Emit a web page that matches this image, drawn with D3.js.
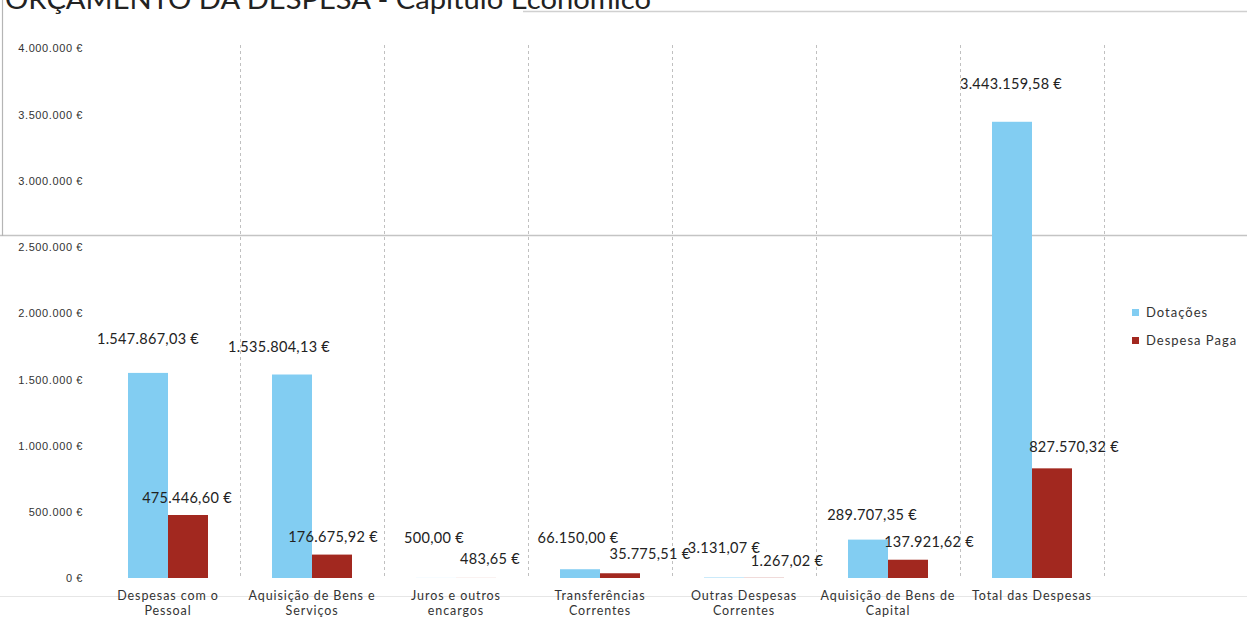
<!DOCTYPE html>
<html>
<head>
<meta charset="utf-8">
<script src="https://cdn.jsdelivr.net/npm/d3@7"></script>
<style>
  html, body { margin: 0; padding: 0; background: #fff; }
  svg { display: block; }
</style>
</head>
<body>
<svg id="chart" width="1247" height="617"></svg>
<script>
// ---- data ----
const categories = [
  "Despesas com o Pessoal",
  "Aquisição de Bens e Serviços",
  "Juros e outros encargos",
  "Transferências Correntes",
  "Outras Despesas Correntes",
  "Aquisição de Bens de Capital",
  "Total das Despesas"
];
const categoryLines = [
  ["Despesas com o", "Pessoal"],
  ["Aquisição de Bens e", "Serviços"],
  ["Juros e outros", "encargos"],
  ["Transferências", "Correntes"],
  ["Outras Despesas", "Correntes"],
  ["Aquisição de Bens de", "Capital"],
  ["Total das Despesas"]
];
const seriesNames = ["Dotações", "Despesa Paga"];
const dotacoes = [1547867.03, 1535804.13, 500.00, 66150.00, 3131.07, 289707.35, 3443159.58];
const despesaPaga = [475446.60, 176675.92, 483.65, 35775.51, 1267.02, 137921.62, 827570.32];
const yTicks = [0, 500000, 1000000, 1500000, 2000000, 2500000, 3000000, 3500000, 4000000];
const titleText = "ORÇAMENTO DA DESPESA - Capítulo Económico";

// label nudges (style: offset from bar centre / top)
const nudgeDot = [[0,-29],[-13,-23],[-2,-35],[-2,-26],[0,-25],[4,-20],[-1,-33]];
const nudgePaga = [[-1,-12],[1,-13],[14,-14],[30,-14],[23,-12],[21,-13],[22,-16]];

const colors = { "Dotações": "#82cdf2", "Despesa Paga": "#a2281f" };

// ---- drawing ----
const svg = d3.select("#chart");
const locale = d3.formatLocale({ decimal: ",", thousands: ".", grouping: [3], currency: ["", " €"] });
const fmtTick = locale.format(",.0f");
const fmtVal = locale.format(",.2f");

const x0 = d3.scaleBand().domain(categories).range([96, 1104]).padding(0);
const x1 = d3.scaleBand().domain(seriesNames).range([0, x0.bandwidth()]).paddingInner(0).paddingOuter(0.8);
const y = d3.scaleLinear().domain([0, 4000000]).range([578, 48]);

// scan artifacts
svg.append("line").attr("x1", 0).attr("x2", 1247).attr("y1", 596.5).attr("y2", 596.5)
  .attr("stroke", "#e6e6e6").attr("stroke-width", 1);
svg.append("line").attr("x1", 0).attr("x2", 1247).attr("y1", 235.5).attr("y2", 235.5)
  .attr("stroke", "#c4c4c4").attr("stroke-width", 1.5);
svg.append("line").attr("x1", 523).attr("x2", 1247).attr("y1", 11.5).attr("y2", 11.5)
  .attr("stroke", "#d0d0d0").attr("stroke-width", 1.5);
svg.append("line").attr("x1", 2.5).attr("x2", 2.5).attr("y1", 0).attr("y2", 236)
  .attr("stroke", "#b5b5b5").attr("stroke-width", 1.2);

// title (cut off at the top, as in the scanned reference)
svg.append("text").attr("x", 5).attr("y", 9)
  .attr("font-family", "Lato, 'DejaVu Sans', sans-serif").attr("font-size", 27)
  .attr("fill", "#222").attr("textLength", 646).attr("lengthAdjust", "spacingAndGlyphs")
  .text(titleText);

// dashed vertical separators
svg.append("g").selectAll("line").data(categories).join("line")
  .attr("x1", d => x0(d) + x0.bandwidth() + 0.5)
  .attr("x2", d => x0(d) + x0.bandwidth() + 0.5)
  .attr("y1", 45).attr("y2", 578)
  .attr("stroke", "#c0c0c0").attr("stroke-width", 1).attr("stroke-dasharray", "3,3");

// y axis labels
const yAxis = d3.axisLeft(y).tickValues(yTicks).tickSize(0).tickPadding(0)
  .tickFormat(d => fmtTick(d) + " €");
const gy = svg.append("g").attr("transform", "translate(83,0)").call(yAxis);
gy.select(".domain").remove();
gy.selectAll("text").attr("font-family", "'Liberation Sans', Arial, sans-serif")
  .attr("font-size", 11).attr("letter-spacing", 0.6).attr("fill", "#333").attr("dy", "0.35em");

// bars
const rows = categories.map((c, i) => ({ cat: c, i, vals: [dotacoes[i], despesaPaga[i]] }));
const groups = svg.append("g").selectAll("g").data(rows).join("g")
  .attr("transform", d => `translate(${x0(d.cat)},0)`);
groups.selectAll("rect").data(d => seriesNames.map((s, k) => ({ s, v: d.vals[k], i: d.i })))
  .join("rect")
  .attr("x", d => x1(d.s))
  .attr("width", x1.bandwidth())
  .attr("y", d => y(d.v))
  .attr("height", d => y(0) - y(d.v))
  .attr("fill", d => colors[d.s]);

// value labels
const labelData = [];
categories.forEach((c, i) => {
  labelData.push({ s: seriesNames[0], v: dotacoes[i], cat: c, n: nudgeDot[i] });
  labelData.push({ s: seriesNames[1], v: despesaPaga[i], cat: c, n: nudgePaga[i] });
});
svg.append("g").selectAll("text").data(labelData).join("text")
  .attr("x", d => x0(d.cat) + x1(d.s) + x1.bandwidth() / 2 + d.n[0])
  .attr("y", d => y(d.v) + d.n[1])
  .attr("text-anchor", "middle")
  .attr("font-family", "Lato, 'Open Sans', sans-serif")
  .attr("font-size", 14.5)
  .attr("letter-spacing", 0.3)
  .attr("fill", "#222")
  .text(d => fmtVal(d.v) + " €");

// category labels
const cl = svg.append("g").selectAll("text").data(categories).join("text")
  .attr("x", d => x0(d) + x0.bandwidth() / 2)
  .attr("y", 600)
  .attr("text-anchor", "middle")
  .attr("font-family", "Lato, 'Open Sans', sans-serif")
  .attr("font-size", 12.5)
  .attr("letter-spacing", 0.9)
  .attr("fill", "#333");
cl.selectAll("tspan").data((d, i) => categoryLines[i]).join("tspan")
  .attr("x", function() { return d3.select(this.parentNode).attr("x"); })
  .attr("dy", (d, j) => j === 0 ? 0 : 15)
  .text(d => d);

// legend
const lg = svg.append("g").selectAll("g").data(seriesNames).join("g")
  .attr("transform", (d, i) => `translate(1132,${309 + i * 28})`);
lg.append("rect").attr("width", 7).attr("height", 7).attr("fill", d => colors[d]);
lg.append("text").attr("x", 14).attr("y", 8)
  .attr("font-family", "Lato, 'Open Sans', sans-serif").attr("font-size", 13)
  .attr("letter-spacing", 1)
  .attr("fill", "#333").text(d => d);
</script>
</body>
</html>
